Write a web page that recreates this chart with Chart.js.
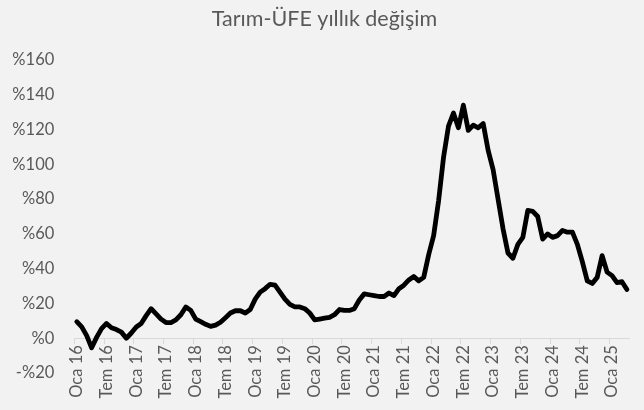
<!DOCTYPE html>
<html lang="tr">
<head>
<meta charset="utf-8">
<title>Tarım-ÜFE yıllık değişim</title>
<script src="https://cdn.jsdelivr.net/npm/chart.js@4.4.1/dist/chart.umd.min.js"></script>
<style>
  html, body { margin: 0; padding: 0; background: #f2f2f2; }
  #wrap { width: 644px; height: 410px; }
</style>
</head>
<body>
<div id="wrap"><canvas id="chart" width="644" height="410"></canvas></div>
<script>
// Tarım-ÜFE, yıllık % değişim (aylık, Oca 2016 - Nis 2025)
var months = ['Oca', 'Şub', 'Mar', 'Nis', 'May', 'Haz', 'Tem', 'Ağu', 'Eyl', 'Eki', 'Kas', 'Ara'];
var years = ['16', '17', '18', '19', '20', '21', '22', '23', '24', '25'];

var v2016 = [9.5, 6.5, 1.5, -5.5, 0.5, 5.5, 8.5, 6, 5, 3.5, 0, 3];
var v2017 = [6.5, 8.5, 13, 17, 14, 11, 9, 9, 10.5, 13.5, 18, 16];
var v2018 = [11, 9.5, 8, 6.8, 7.5, 9.2, 11.8, 14.5, 15.8, 15.8, 14.5, 16.5];
var v2019 = [22.5, 26.5, 28.5, 31, 30.5, 26.5, 22.5, 19.5, 18, 18, 17, 14.5];
var v2020 = [10.5, 11, 11.5, 12, 13.5, 16.5, 16, 16, 17, 22, 25.5, 25];
var v2021 = [24.5, 24, 24, 26, 24.5, 28.5, 30.5, 33.5, 35.5, 33, 35, 48];
var v2022 = [59, 79, 104, 122, 129.5, 121, 134, 119.5, 122.5, 121, 123.5, 108];
var v2023 = [97, 80, 63, 49, 46, 54, 58, 73.5, 73, 70, 57, 60];
var v2024 = [58, 59, 62, 61, 61, 54, 44, 33, 31.5, 35, 47.5, 38];
var v2025 = [36, 32, 32.5, 28];

var yTicks = { min: -20, max: 160, step: 20 };

var values = [].concat(v2016, v2017, v2018, v2019, v2020, v2021, v2022, v2023, v2024, v2025);
var labels = [];
years.forEach(function(y) {
  months.forEach(function(m) {
    if (labels.length < values.length) labels.push(m + ' ' + y);
  });
});

var grey = '#595959';
var tickFont = { family: 'Lato', size: 16.5 };

// nudge the title so it is centred where the reference has it
var titleShift = {
  id: 'titleShift',
  afterLayout: function(chart) {
    if (chart.titleBlock) chart.titleBlock.left = 19.6;
  }
};

new Chart(document.getElementById('chart'), {
  type: 'line',
  data: {
    labels: labels,
    datasets: [{
      label: 'Tarım-ÜFE',
      data: values,
      borderColor: '#000000',
      borderWidth: 4.8,
      borderJoinStyle: 'round',
      borderCapStyle: 'round',
      pointRadius: 0,
      tension: 0,
      fill: false
    }]
  },
  plugins: [titleShift],
  options: {
    responsive: false,
    animation: false,
    devicePixelRatio: 1,
    layout: { padding: { top: 0, right: 14.6, bottom: 37, left: 0 } },
    plugins: {
      legend: { display: false },
      tooltip: { enabled: false },
      title: {
        display: true,
        text: 'Tarım-ÜFE yıllık değişim',
        color: grey,
        font: { family: 'Lato', size: 21.5, weight: 'normal' },
        padding: { top: 6, bottom: 28.2 }
      }
    },
    scales: {
      x: {
        position: { y: 0 },
        offset: true,
        grid: {
          offset: true,
          drawOnChartArea: false,
          drawTicks: true,
          tickLength: 5,
          tickColor: function(ctx) { return ctx.index % 6 === 0 ? '#d9d9d9' : 'rgba(0,0,0,0)'; }
        },
        border: { display: true, color: '#d9d9d9', width: 1 },
        ticks: {
          autoSkip: false,
          minRotation: 90,
          maxRotation: 90,
          padding: 2,
          color: grey,
          font: tickFont,
          callback: function(val, i) { return i % 6 === 0 ? this.getLabelForValue(val) : ''; }
        },
        afterFit: function(scale) {
          scale.height = 0;
          scale.paddingLeft = 0;
          scale.paddingRight = 0;
        }
      },
      y: {
        min: yTicks.min,
        max: yTicks.max,
        grid: { display: false, drawTicks: false },
        border: { display: false },
        ticks: {
          stepSize: yTicks.step,
          padding: 20,
          color: grey,
          font: tickFont,
          callback: function(v) { return (v < 0 ? '-%' : '%') + Math.abs(v); }
        },
        afterFit: function(scale) {
          scale.width = 74.3;
          scale.paddingTop = 0;
          scale.paddingBottom = 0;
        }
      }
    }
  }
});
</script>
</body>
</html>
